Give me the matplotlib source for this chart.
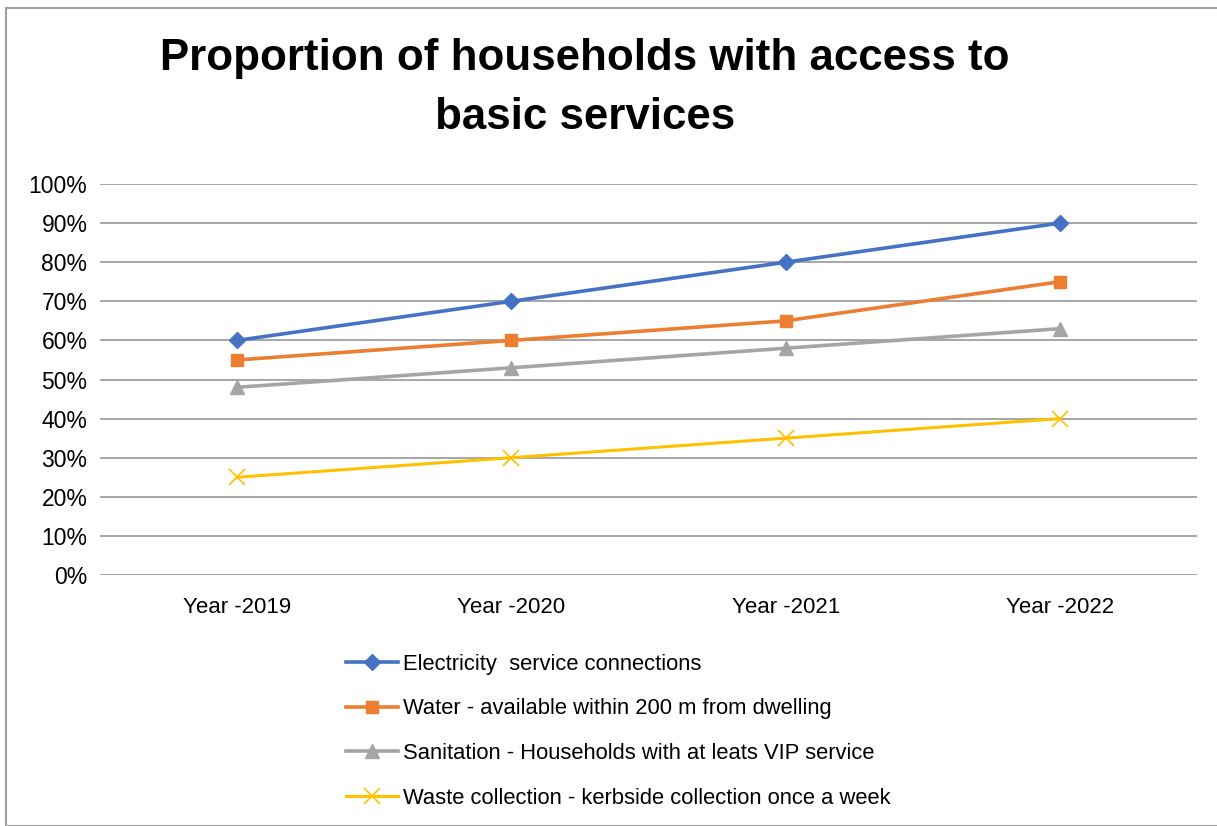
import matplotlib.pyplot as plt
from matplotlib.patches import Rectangle
from matplotlib.ticker import PercentFormatter

plt.rcParams['font.family'] = ['Liberation Sans', 'DejaVu Sans']

years = ["Year -2019", "Year -2020", "Year -2021", "Year -2022"]
electricity = [60, 70, 80, 90]
water = [55, 60, 65, 75]
sanitation = [48, 53, 58, 63]
waste = [25, 30, 35, 40]

labels = [
    "Electricity  service connections",
    "Water - available within 200 m from dwelling",
    "Sanitation - Households with at leats VIP service",
    "Waste collection - kerbside collection once a week",
]

W, H = 1217, 826
fig = plt.figure(figsize=(W / 100, H / 100), dpi=100)
ax = fig.add_axes([100 / W, 1 - 575 / H, 1097 / W, 391 / H])

x = range(len(years))
ax.plot(x, electricity, color="#4472C4", lw=2.6, marker="D", ms=8, label=labels[0])
ax.plot(x, water, color="#ED7D31", lw=2.6, marker="s", ms=9, label=labels[1])
ax.plot(x, sanitation, color="#A5A5A5", lw=2.6, marker="^", ms=10, label=labels[2])
ax.plot(x, waste, color="#FFC000", lw=2.2, marker="x", ms=11, mew=1.2, label=labels[3])

ax.set_xlim(-0.5, 3.5)
ax.set_ylim(0, 100)
ax.set_yticks(range(0, 101, 10))
ax.yaxis.set_major_formatter(PercentFormatter(decimals=0))
ax.set_xticks(list(x))
ax.set_xticklabels(years)
ax.tick_params(axis="y", length=0, labelsize=16.5, colors="#000000", pad=9)
ax.tick_params(axis="x", length=0, labelsize=16, colors="#000000", pad=16)
ax.grid(axis="y", color="#A6A6A6", lw=1.4)
ax.set_axisbelow(True)
for s in ax.spines.values():
    s.set_visible(False)

fig.text(585 / W, 1 - 88 / H, "Proportion of households with access to\nbasic services",
         ha="center", va="center", fontsize=31.6, fontweight="bold", linespacing=1.55)

leg = fig.legend(loc="upper left", bbox_to_anchor=(337 / W, 1 - 645 / H),
                 frameon=False, fontsize=15.8, handlelength=2.4, handletextpad=0.22,
                 labelspacing=1.08, borderaxespad=0)

fig.patches.append(Rectangle((6 / W, 0), 1.2, 1 - 8 / H, transform=fig.transFigure,
                             fill=False, edgecolor="#A0A0A0", lw=1.5))

fig.savefig("out.png", dpi=100)
